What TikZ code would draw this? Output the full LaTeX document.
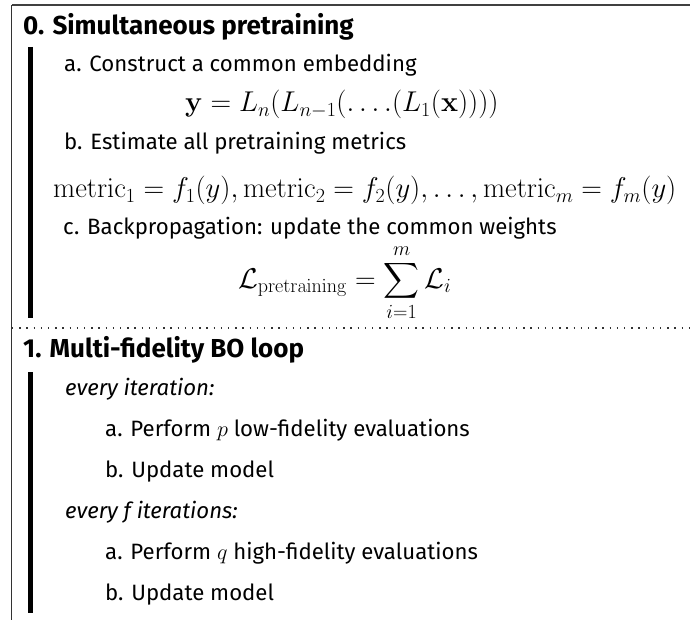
\RequirePackage{fix-cm}
\documentclass[tikz,border=0pt]{standalone}
\usepackage{amsmath}
\usepackage[no-math]{fontspec}
\setmainfont{Fira Sans}
\newcommand{\bodysz}{\fontsize{22.2}{26}\selectfont}
\newcommand{\headsz}{\fontsize{26}{31}\selectfont\bfseries}
\newcommand{\mathsz}{\fontsize{28.6}{33}\selectfont}
\tikzset{
  txt/.style={anchor=base west, inner sep=0pt, font=\bodysz},
  itx/.style={anchor=base west, inner sep=0pt, font=\bodysz\itshape},
  head/.style={anchor=base west, inner sep=0pt, font=\headsz},
  mth/.style={anchor=base west, inner sep=0pt, font=\mathsz},
  bar/.style={line width=4.5pt, black},
  frame/.style={line width=1.3pt, black!80},
  topframe/.style={line width=2.4pt, black!75},
  sep/.style={line width=1.4pt, black!80, dash pattern=on 1.4pt off 5.8pt}
}
\begin{document}
\begin{tikzpicture}[x=1pt,y=-1pt]
\useasboundingbox (0,0) rectangle (690,620);
\fill[white] (0,0) rectangle (690,620);
\begin{scope}
\clip (0,0) rectangle (690,620);
\coordinate (fbl) at (11.8,640);
\coordinate (ftl) at (11.8,5);
\coordinate (ftr) at (700,5);
\draw[frame] (fbl) -- (ftl);
\draw[topframe] (ftl) -- (ftr);
\coordinate (dl) at (12,328);
\coordinate (dr) at (700,328);
\draw[sep] (dl) -- (dr);
\end{scope}
% section 0
\node[head] (h0) at (23,35) {0. Simultaneous pretraining};
\coordinate (b0t) at (30.5,47);
\coordinate (b0b) at (30.5,318);
\draw[bar] (b0t) -- (b0b);
\node[txt] (a0) at (64,72) {a. Construct a common embedding};
\node[mth] (e0) at (185,112) {$\mathbf{y}=L_n(L_{n-1}(\ldots.(L_1(\mathbf{x}))))$};
\node[txt] (b0) at (64,150) {b. Estimate all pretraining metrics};
\node[mth] (m0) at (53,198) {$\mathrm{metric}_1=f_1(y),\mathrm{metric}_2=f_2(y),\ldots,\mathrm{metric}_m=f_m(y)$};
\node[txt] (c0) at (63,235) {c. Backpropagation: update the common weights};
\node[mth] (s0) at (238,288) {$\displaystyle\mathcal{L}_{\mathrm{pretraining}}=\sum_{i=1}^{m}\mathcal{L}_i$};
% section 1
\node[head] (h1) at (23,357) {1. Multi-fidelity BO loop};
\coordinate (b1t) at (30.5,372);
\coordinate (b1b) at (30.5,613);
\draw[bar] (b1t) -- (b1b);
\node[itx] (e1) at (65,395) {every iteration:};
\node[txt] (p1) at (105,436) {a. Perform $p$ low-fidelity evaluations};
\node[txt] (u1) at (105,477) {b. Update model};
\node[itx] (e2) at (65,518) {every f iterations:};
\node[txt] (q1) at (105,559) {a. Perform $q$ high-fidelity evaluations};
\node[txt] (u2) at (105,600) {b. Update model};
\end{tikzpicture}
\end{document}
